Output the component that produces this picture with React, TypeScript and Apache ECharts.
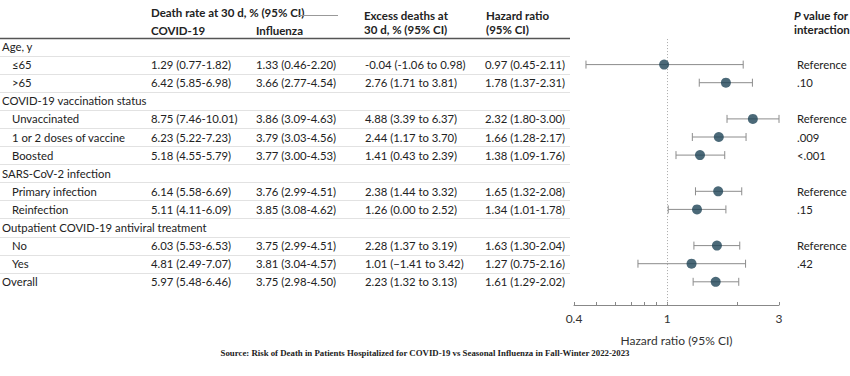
import React, { useEffect, useRef } from "react";
import * as echarts from "echarts";

const rowLabels = [
  "Age, y",
  "≤65",
  ">65",
  "COVID-19 vaccination status",
  "Unvaccinated",
  "1 or 2 doses of vaccine",
  "Boosted",
  "SARS-CoV-2 infection",
  "Primary infection",
  "Reinfection",
  "Outpatient COVID-19 antiviral treatment",
  "No",
  "Yes",
  "Overall",
];
const rowIndent = [0, 1, 1, 0, 1, 1, 1, 0, 1, 1, 0, 1, 1, 0];
const covidRate = ["", "1.29 (0.77-1.82)", "6.42 (5.85-6.98)", "", "8.75 (7.46-10.01)", "6.23 (5.22-7.23)", "5.18 (4.55-5.79)", "", "6.14 (5.58-6.69)", "5.11 (4.11-6.09)", "", "6.03 (5.53-6.53)", "4.81 (2.49-7.07)", "5.97 (5.48-6.46)"];
const fluRate = ["", "1.33 (0.46-2.20)", "3.66 (2.77-4.54)", "", "3.86 (3.09-4.63)", "3.79 (3.03-4.56)", "3.77 (3.00-4.53)", "", "3.76 (2.99-4.51)", "3.85 (3.08-4.62)", "", "3.75 (2.99-4.51)", "3.81 (3.04-4.57)", "3.75 (2.98-4.50)"];
const excessDeaths = ["", "-0.04 (-1.06 to 0.98)", "2.76 (1.71 to 3.81)", "", "4.88 (3.39 to 6.37)", "2.44 (1.17 to 3.70)", "1.41 (0.43 to 2.39)", "", "2.38 (1.44 to 3.32)", "1.26 (0.00 to 2.52)", "", "2.28 (1.37 to 3.19)", "1.01 (−1.41 to 3.42)", "2.23 (1.32 to 3.13)"];
const hrText = ["", "0.97 (0.45-2.11)", "1.78 (1.37-2.31)", "", "2.32 (1.80-3.00)", "1.66 (1.28-2.17)", "1.38 (1.09-1.76)", "", "1.65 (1.32-2.08)", "1.34 (1.01-1.78)", "", "1.63 (1.30-2.04)", "1.27 (0.75-2.16)", "1.61 (1.29-2.02)"];
const pValues = ["", "Reference", ".10", "", "Reference", ".009", "<.001", "", "Reference", ".15", "", "Reference", ".42", ""];

const hrRows = [1, 2, 4, 5, 6, 8, 9, 11, 12, 13];
const hrEst = [0.97, 1.78, 2.32, 1.66, 1.38, 1.65, 1.34, 1.63, 1.27, 1.61];
const hrLow = [0.45, 1.37, 1.8, 1.28, 1.09, 1.32, 1.01, 1.3, 0.75, 1.29];
const hrHigh = [2.11, 2.31, 3.0, 2.17, 1.76, 2.08, 1.78, 2.04, 2.16, 2.02];

const tickValues = [0.4, 0.5, 0.6, 0.7, 0.8, 0.9, 1, 2, 3];
const labelValues = [0.4, 1, 3];

const FONT = "Lato, 'Noto Sans', sans-serif";
const ROW0 = 46.5;
const ROWH = 18.1;
const AXIS_Y = 305;
const Y_MIN = -0.5;
const Y_MAX = (AXIS_Y - ROW0) / ROWH;

export default function App() {
  const ref = useRef<HTMLDivElement>(null);
  useEffect(() => {
    if (!ref.current) return;
    const chart = echarts.init(ref.current, null, { renderer: "svg" });
    const rowY = (i: number) => ROW0 + ROWH * i;
    const fs = 11.3;
    const txt = (text: string, x: number, y: number, opts: any = {}) => ({
      type: "text",
      silent: true,
      style: {
        text,
        x,
        y,
        fill: "#222",
        font: `${opts.weight || "normal"} ${opts.size || fs}px ${opts.family || FONT}`,
        align: opts.align || "left",
        verticalAlign: "middle",
      },
    });
    const graphics: any[] = [];
    // headers
    graphics.push(txt("Death rate at 30 d, % (95% CI)", 151, 12, { weight: "bold", size: 11.5 }));
    graphics.push({ type: "line", silent: true, shape: { x1: 298, y1: 15.5, x2: 338, y2: 15.5 }, style: { stroke: "#999", lineWidth: 1.2 } });
    graphics.push(txt("COVID-19", 151, 30.5, { weight: "bold", size: 11.5 }));
    graphics.push(txt("Influenza", 256, 30.5, { weight: "bold", size: 11.5 }));
    graphics.push(txt("Excess deaths at", 364, 15, { weight: "bold", size: 11.5 }));
    graphics.push(txt("30 d, % (95% CI)", 364, 29, { weight: "bold", size: 11.5 }));
    graphics.push(txt("Hazard ratio", 486, 15, { weight: "bold", size: 11.5 }));
    graphics.push(txt("(95% CI)", 486, 29, { weight: "bold", size: 11.5 }));
    graphics.push({
      type: "text",
      silent: true,
      style: {
        text: "{i|P} value for",
        x: 794,
        y: 15,
        fill: "#222",
        font: `bold 11.5px ${FONT}`,
        verticalAlign: "middle",
        rich: { i: { fontStyle: "italic", fontWeight: "bold", fontSize: 11.5, fontFamily: FONT, fill: "#222" } },
      },
    });
    graphics.push(txt("interaction", 794, 29, { weight: "bold", size: 11.5 }));
    graphics.push({ type: "line", silent: true, shape: { x1: 0, y1: 38.5, x2: 570, y2: 38.5 }, style: { stroke: "#555", lineWidth: 1.5 } });
    // rows
    rowLabels.forEach((lab, i) => {
      const y = rowY(i);
      graphics.push(txt(lab, rowIndent[i] ? 12 : 2, y));
      if (covidRate[i]) graphics.push(txt(covidRate[i], 151, y));
      if (fluRate[i]) graphics.push(txt(fluRate[i], 256, y));
      if (excessDeaths[i]) graphics.push(txt(excessDeaths[i], 365, y));
      if (hrText[i]) graphics.push(txt(hrText[i], 485, y));
      if (pValues[i]) graphics.push(txt(pValues[i], 797, y));
      if (i < rowLabels.length - 1) {
        const ly = Math.round(y + ROWH / 2) + 0.5;
        graphics.push({ type: "line", silent: true, shape: { x1: 0, y1: ly, x2: 570, y2: ly }, style: { stroke: "#e2e2e2", lineWidth: 1.2 } });
      }
    });
    graphics.push(
      txt("Source: Risk of Death in Patients Hospitalized for COVID-19 vs Seasonal Influenza in Fall-Winter 2022-2023", 425, 353, {
        weight: "bold",
        size: 8.8,
        family: "'Liberation Serif', 'DejaVu Serif', serif",
        align: "center",
      })
    );

    const lg = (v: number) => Math.log10(v);
    const barData = hrRows.map((r, k) => [lg(hrLow[k]), lg(hrHigh[k]), r]);
    const pointData = hrRows.map((r, k) => [lg(hrEst[k]), r]);

    chart.setOption({
      animation: false,
      grid: {
        left: 574,
        right: 850 - 779,
        top: ROW0 + Y_MIN * ROWH,
        bottom: 376 - AXIS_Y,
      },
      xAxis: {
        type: "value",
        position: "bottom",
        min: lg(0.4),
        max: lg(3),
        splitLine: { show: false },
        axisLine: { show: true, onZero: false, lineStyle: { color: "#888", width: 1 } },
        axisTick: {
          show: true,
          inside: true,
          length: 3,
          lineStyle: { color: "#888" },
          customValues: tickValues.map(lg),
        },
        axisLabel: {
          show: true,
          color: "#333",
          fontSize: 12,
          fontFamily: FONT,
          margin: 7,
          customValues: labelValues.map(lg),
          formatter: (v: number) => String(Math.round(Math.pow(10, v) * 10) / 10),
        },
        name: "Hazard ratio (95% CI)",
        nameLocation: "middle",
        nameGap: 29,
        nameTextStyle: { color: "#333", fontSize: 12, fontFamily: FONT },
      },
      yAxis: {
        type: "value",
        inverse: true,
        min: Y_MIN,
        max: Y_MAX,
        show: false,
        splitLine: { show: false },
      },
      graphic: graphics,
      series: [
        {
          type: "custom",
          silent: true,
          data: barData,
          renderItem: (params: any, api: any) => {
            const lo = api.coord([api.value(0), api.value(2)]);
            const hi = api.coord([api.value(1), api.value(2)]);
            const style = { stroke: "#8c8c8c", lineWidth: 1 };
            return {
              type: "group",
              children: [
                { type: "line", shape: { x1: lo[0], y1: lo[1], x2: hi[0], y2: hi[1] }, style },
                { type: "line", shape: { x1: lo[0], y1: lo[1] - 4, x2: lo[0], y2: lo[1] + 4 }, style },
                { type: "line", shape: { x1: hi[0], y1: hi[1] - 4, x2: hi[0], y2: hi[1] + 4 }, style },
              ],
            };
          },
          z: 2,
        },
        {
          type: "scatter",
          silent: true,
          data: pointData,
          symbol: "circle",
          symbolSize: 10,
          itemStyle: { color: "#1e4456" },
          z: 3,
          markLine: {
            silent: true,
            symbol: "none",
            label: { show: false },
            lineStyle: { type: [1, 2], color: "#aaa", width: 1 },
            data: [[{ coord: [0, -0.41] }, { coord: [0, Y_MAX] }]],
            z: 1,
          },
        },
      ],
    });
    return () => chart.dispose();
  }, []);
  return <div ref={ref} style={{ position: "absolute", left: 0, top: 0, width: 850, height: 376 }} />;
}
